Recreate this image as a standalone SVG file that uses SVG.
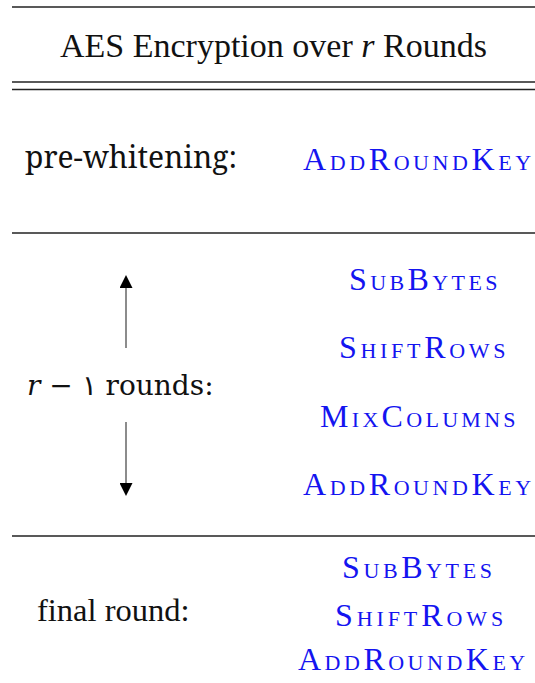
<svg xmlns="http://www.w3.org/2000/svg" width="535" height="683" viewBox="0 0 535 683">
  <defs>
    <style>
      .rule { stroke: #222; stroke-width: 1.4; }
      .lbl { fill: #111; }
      .op { fill: #1414f0; font-variant: small-caps; }
      .shaft { stroke: #666; stroke-width: 1.5; }
    </style>
    <marker id="head" viewBox="0 0 10 10" refX="0" refY="5" markerWidth="15" markerHeight="13" markerUnits="userSpaceOnUse" orient="auto">
      <path d="M0,0 L10,5 L0,10 Z" fill="#000"/>
    </marker>
  </defs>

  <rect width="535" height="683" fill="#fff"/>

  <!-- table rules -->
  <g id="rules">
    <line class="rule" x1="12" y1="7" x2="535" y2="7"/>
    <line class="rule" x1="12" y1="82" x2="535" y2="82"/>
    <line class="rule" x1="12" y1="89.5" x2="535" y2="89.5"/>
    <line class="rule" x1="12" y1="233" x2="535" y2="233"/>
    <line class="rule" x1="12" y1="536" x2="535" y2="536"/>
  </g>

  <!-- header -->
  <g id="title">
    <text class="lbl" x="60" y="57" font-family="Liberation Serif, serif" font-size="34">AES Encryption over <tspan font-style="italic">r</tspan> Rounds</text>
  </g>

  <!-- pre-whitening row -->
  <g id="row-prewhitening">
    <text class="lbl" x="25" y="168" font-family="Noto Serif, serif" font-size="30">pre-whitening:</text>
    <text class="op" x="303" y="170" font-family="Liberation Serif, serif" font-size="32" letter-spacing="3.6">AddRoundKey</text>
  </g>

  <!-- main rounds row -->
  <g id="row-rounds">
    <text class="lbl" x="27" y="395" font-family="DejaVu Serif, serif" font-size="28"><tspan font-style="italic">r</tspan> − ١ rounds:</text>
    <text class="op" x="349" y="290" font-family="Liberation Serif, serif" font-size="32" letter-spacing="3.4">SubBytes</text>
    <text class="op" x="339" y="358" font-family="Liberation Serif, serif" font-size="32" letter-spacing="3.7">ShiftRows</text>
    <text class="op" x="320" y="427" font-family="Liberation Serif, serif" font-size="32" letter-spacing="3.3">MixColumns</text>
    <text class="op" x="303" y="495" font-family="Liberation Serif, serif" font-size="32" letter-spacing="3.6">AddRoundKey</text>
  </g>

  <!-- final round row -->
  <g id="row-final">
    <text class="lbl" x="37" y="621" font-family="serif" font-size="32.5">final round:</text>
    <text class="op" x="342" y="578" font-family="Liberation Serif, serif" font-size="32" letter-spacing="3.6">SubBytes</text>
    <text class="op" x="335" y="626" font-family="Liberation Serif, serif" font-size="32" letter-spacing="3.9">ShiftRows</text>
    <text class="op" x="298" y="670" font-family="Liberation Serif, serif" font-size="32" letter-spacing="3.5">AddRoundKey</text>
  </g>

  <!-- round repetition arrows -->
  <g id="connectors">
    <line class="shaft" x1="126" y1="348" x2="126" y2="288" marker-end="url(#head)"/>
    <line class="shaft" x1="126" y1="422" x2="126" y2="483" marker-end="url(#head)"/>
  </g>
</svg>
